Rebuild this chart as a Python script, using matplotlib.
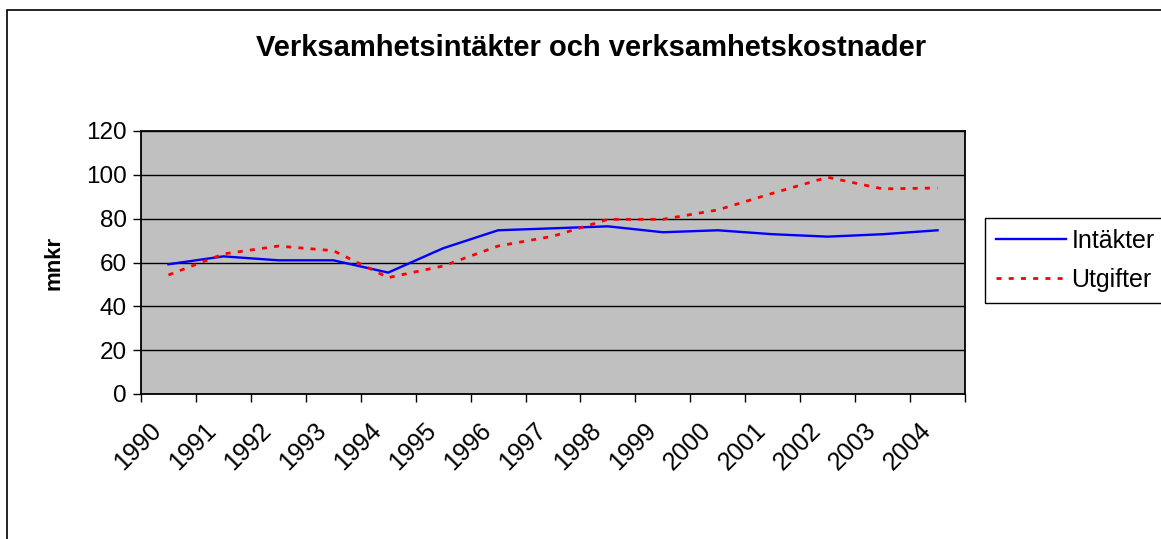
import matplotlib
matplotlib.use("Agg")
import matplotlib.pyplot as plt
import matplotlib.transforms as mtransforms
from matplotlib.patches import Rectangle
import numpy as np

plt.rcParams['font.family'] = ['Liberation Sans', 'DejaVu Sans']

years = ['1990', '1991', '1992', '1993', '1994', '1995', '1996', '1997',
         '1998', '1999', '2000', '2001', '2002', '2003', '2004']
intakter = [59.2, 62.8, 61.0, 61.0, 55.4, 66.5, 74.7, 75.6,
            76.5, 73.8, 74.7, 72.9, 71.8, 72.9, 74.7]
utgifter = [54.3, 63.9, 67.5, 65.4, 53.1, 58.4, 67.5, 72.0,
            79.7, 79.7, 84.0, 91.6, 98.9, 93.6, 94.0]
yticks = [0, 20, 40, 60, 80, 100, 120]

W, H = 1161, 539
fig = plt.figure(figsize=(W / 100, H / 100), dpi=100)
fig.patch.set_facecolor('white')

# outer chart frame (runs off the right and bottom edges)
fig.patches.append(Rectangle((7 / W, -0.1), 1.2, 1 - 10 / H + 0.1,
                             transform=fig.transFigure, fill=False,
                             edgecolor='black', linewidth=1.2))

ax = fig.add_axes([141 / W, 1 - 394 / H, (965 - 141) / W, (394 - 131) / H])
ax.set_facecolor('#C0C0C0')

x = np.arange(len(years))
ax.plot(x, intakter, color='#0000FF', lw=1.7, label='Intäkter')
ax.plot(x, utgifter, color='#FF0000', lw=2.0, linestyle=(0, (1.8, 2.6)),
        label='Utgifter')

ax.set_xlim(-0.5, len(years) - 0.5)
ax.set_ylim(0, 120)
ax.set_yticks(yticks)
ax.yaxis.grid(True, color='black', lw=1.0)
ax.set_axisbelow(True)

ax.set_xticks(np.arange(len(years) + 1) - 0.5)
ax.set_xticklabels([])
ax.set_xticks(x, minor=True)
ax.set_xticklabels(years, minor=True, rotation=45, ha='right',
                   rotation_mode='anchor', fontsize=18)
ax.tick_params(axis='x', which='minor', length=0, pad=14)
ax.tick_params(axis='x', which='major', length=6, width=1, color='black')
ax.tick_params(axis='y', length=6, width=1, labelsize=17.5, pad=4)

# nudge the rotated year labels to where Excel puts them
shift = mtransforms.ScaledTranslation(-19 / 100, -5 / 100, fig.dpi_scale_trans)
for lbl in ax.get_xticklabels(minor=True):
    lbl.set_transform(lbl.get_transform() + shift)

for s in ax.spines.values():
    s.set_color('black')
    s.set_linewidth(1.3)

ax.set_ylabel('mnkr', fontsize=16, fontweight='bold', labelpad=16)

fig.text(591 / W, 1 - 48 / H, 'Verksamhetsintäkter och verksamhetskostnader',
         ha='center', va='center', fontsize=21, fontweight='bold')

leg = ax.legend(loc='upper left', bbox_to_anchor=(985 / W, 1 - 218 / H),
                bbox_transform=fig.transFigure, fontsize=18, frameon=True,
                fancybox=False, edgecolor='black', framealpha=1,
                handlelength=2.8, labelspacing=0.6, borderpad=0.45,
                handletextpad=0.2, borderaxespad=0)
leg.get_frame().set_linewidth(1.0)

fig.savefig('out.png', dpi=100)
